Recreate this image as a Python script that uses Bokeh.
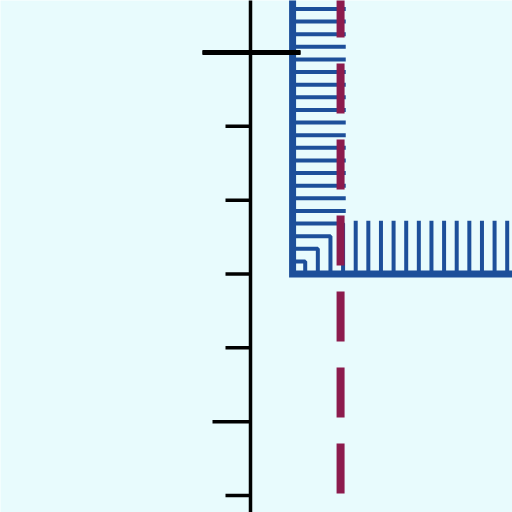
from bokeh.plotting import figure
from bokeh.embed import file_html
from bokeh.resources import INLINE

# axis values, one tick per unit
tick_values = [0, 1, 2, 3, 4, 5, 6]

# step shape: a column rising from the base and a band running off to the right
step_left = 0.57
step_base = 3.0
column_right = 1.29
band_top = 3.72
hatch_gap = 0.171

# dashed marker
marker_x = 1.22

# --- layout / styling ---
SIZE = 512
PX = 73.83            # pixels per unit
X0, Y0 = 250, 495     # where the value 0 sits on the page
def ux(px):
    return (px - X0) / PX
def vy(py):
    return (Y0 - py) / PX

tick_out = [25, 38, 25, 25, 25, 25, 48]
tick_in = [0, 0, 0, 0, 0, 0, 50]
BLUE = "#1d4f9a"
RED = "#8c1b4d"

p = figure(width=SIZE, height=SIZE, output_backend="svg", toolbar_location=None,
           x_range=(ux(0), ux(SIZE)), y_range=(vy(SIZE), vy(0)),
           min_border=0)
p.axis.visible = False
p.grid.visible = False
p.outline_line_color = None
p.background_fill_color = "#e8fbfd"
p.border_fill_color = "#e8fbfd"

# hatch lines: nested L's around the inner corner
W = column_right - step_left
H = band_top - step_base
xs, ys = [], []
d = hatch_gap
while d < 4.0:
    if d <= min(W, H):
        xs.append([step_left, step_left + d, step_left + d])
        ys.append([step_base + d, step_base + d, step_base])
    else:
        if step_base + d < vy(-10):
            xs.append([step_left, column_right])
            ys.append([step_base + d, step_base + d])
        if step_left + d < ux(520):
            xs.append([step_left + d, step_left + d])
            ys.append([band_top, step_base])
    d += hatch_gap
p.multi_line(xs, ys, line_color=BLUE, line_width=4)

# step outline
p.line([step_left, step_left, ux(520)], [vy(-10), step_base, step_base],
       line_color=BLUE, line_width=7, line_join="miter")

# dashed marker
p.line([marker_x, marker_x], [vy(-13), vy(520)], line_color=RED,
       line_width=8, line_dash="50 26")

# axis line and ticks
p.line([0, 0], [vy(-10), vy(520)], line_color="black", line_width=3.5)
p.segment(x0=[-o / PX for o in tick_out], y0=tick_values,
          x1=[i / PX for i in tick_in], y1=tick_values,
          line_color="black", line_width=3.5)
p.segment(x0=[ux(202)], y0=[6], x1=[ux(300)], y1=[6],
          line_color="black", line_width=5)

open("out.html", "w").write(file_html(p, INLINE))
